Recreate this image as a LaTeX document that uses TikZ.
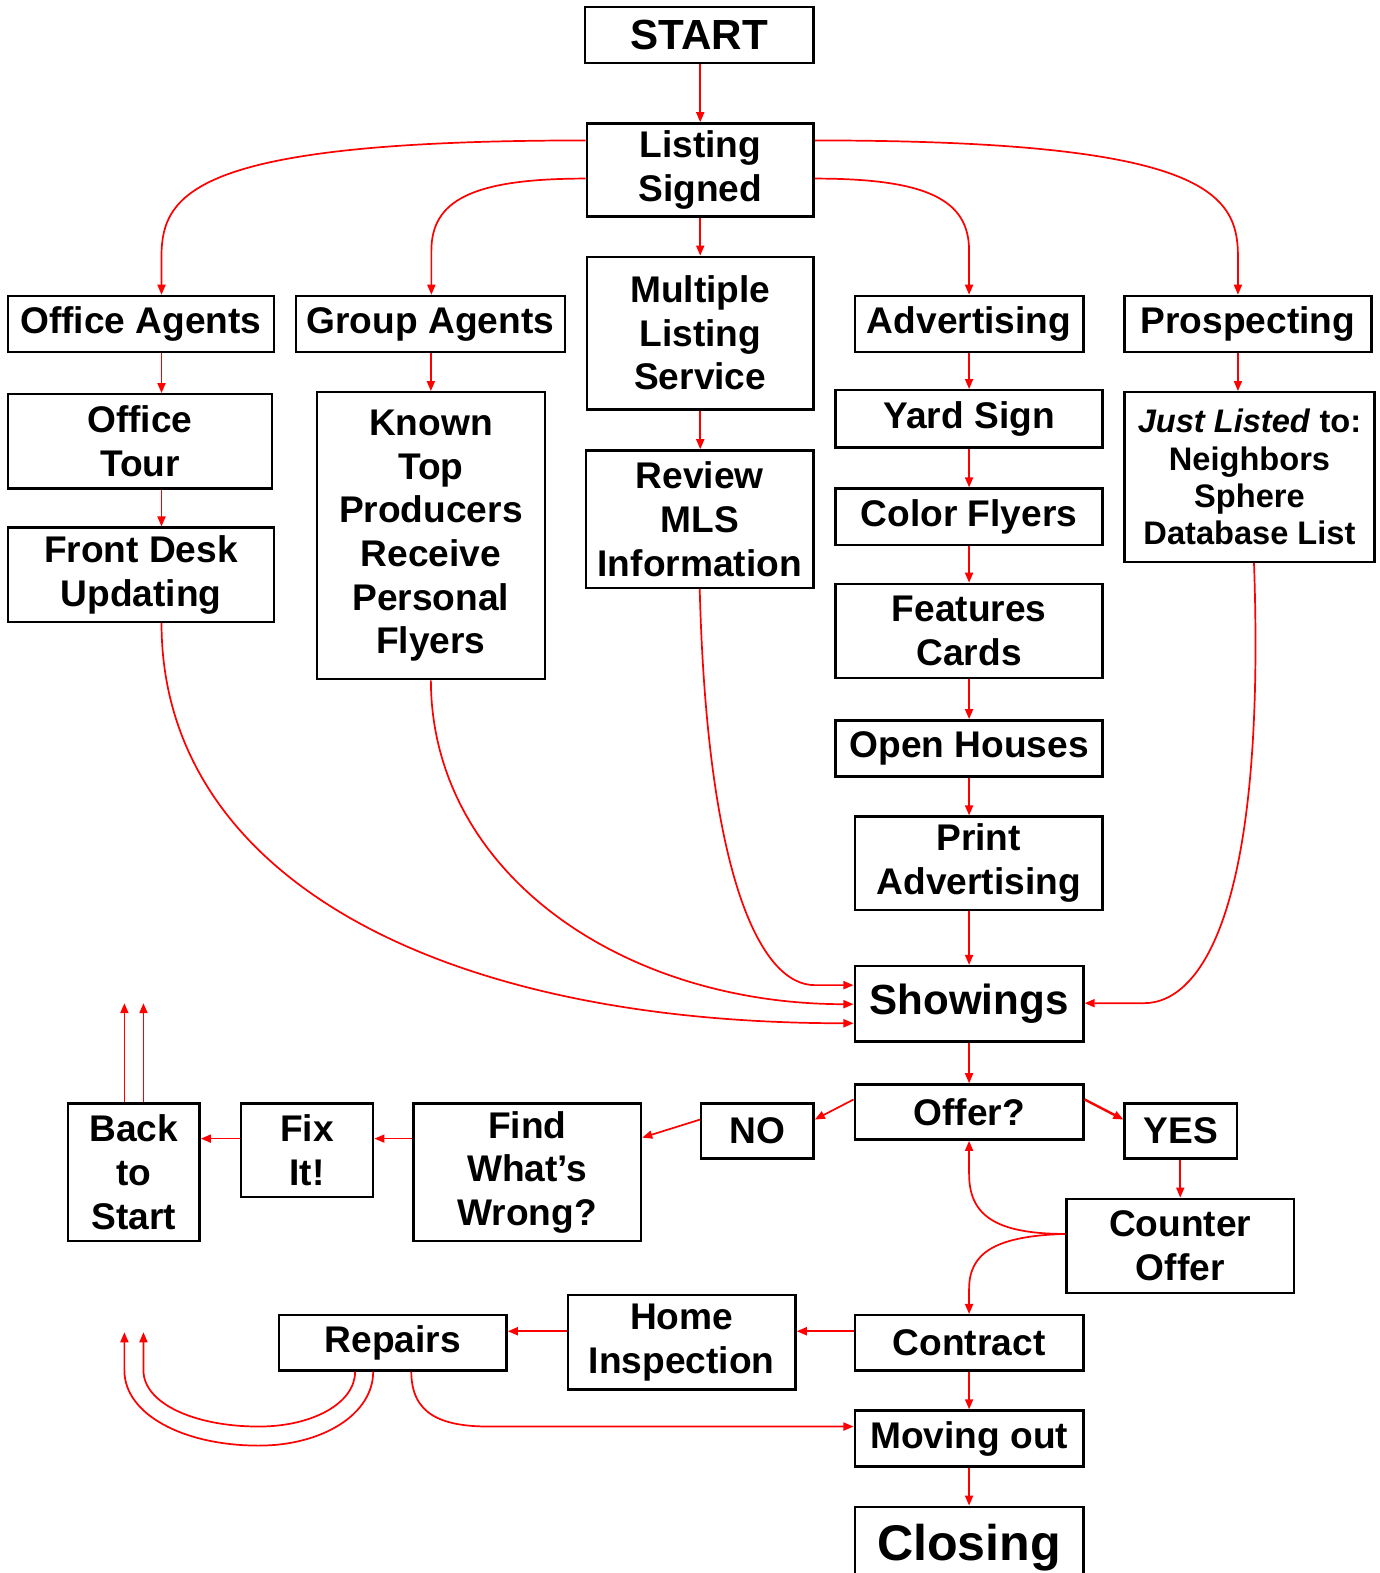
\documentclass[tikz,border=0pt]{standalone}
\usepackage{fontspec}
\setmainfont{Liberation Sans}
\usetikzlibrary{arrows.meta}
\begin{document}
\begin{tikzpicture}[x=1pt,y=-1pt,
 box/.style={draw, line width=2.4pt, inner sep=0pt, align=center, font=\fontsize{37}{43.5}\selectfont\bfseries},
 arr/.style={draw=red, line width=1.7pt, -{Triangle[length=10pt,width=8pt]}},
]
\useasboundingbox (0,0) rectangle (1375,1568);
\node[box,minimum width=228pt,minimum height=56pt,font=\fontsize{42}{48}\selectfont\bfseries] (start) at (697,35) {START};
\node[box,minimum width=226pt,minimum height=93pt] (ls) at (698,169.5) {Listing\\Signed};
\node[box,minimum width=265pt,minimum height=56pt] (oa) at (140.5,323) {Office Agents};
\node[box,minimum width=268pt,minimum height=56pt] (ga) at (429,323) {Group Agents};
\node[box,minimum width=226pt,minimum height=152pt] (mls) at (698,332) {Multiple\\Listing\\Service};
\node[box,minimum width=228pt,minimum height=56pt] (adv) at (966,323) {Advertising};
\node[box,minimum width=246pt,minimum height=56pt] (pros) at (1244,323) {Prospecting};
\node[box,minimum width=263pt,minimum height=94pt] (ot) at (139.5,440) {Office\\Tour};
\node[box,minimum width=265pt,minimum height=94pt] (fd) at (140.5,573) {Front Desk\\Updating};
\node[box,minimum width=227pt,minimum height=286pt] (kn) at (429.5,534) {Known\\Top\\Producers\\Receive\\Personal\\Flyers};
\node[box,minimum width=227pt,minimum height=137pt] (rev) at (697.5,517.5) {Review\\MLS\\Information};
\node[box,minimum width=266pt,minimum height=57pt] (ys) at (966,417.5) {Yard Sign};
\node[box,minimum width=266pt,minimum height=56pt] (cf) at (966,515) {Color Flyers};
\node[box,minimum width=266pt,minimum height=94pt] (fc) at (966,629) {Features\\Cards};
\node[box,minimum width=266pt,minimum height=56pt] (oh) at (966,746) {Open Houses};
\node[box,minimum width=247pt,minimum height=93pt] (pa) at (975.5,860.5) {Print\\Advertising};
\node[box,minimum width=249pt,minimum height=169pt,font=\fontsize{32.5}{37}\selectfont\bfseries] (jl) at (1245.5,475.5) {\textit{Just Listed} to:\\Neighbors\\Sphere\\Database List};
\node[box,minimum width=228pt,minimum height=75pt,font=\fontsize{42}{48}\selectfont\bfseries] (sh) at (966,1000.5) {Showings};
\node[box,minimum width=228pt,minimum height=55pt] (of) at (966,1108.5) {Offer?};
\node[box,minimum width=112pt,minimum height=55pt] (no) at (755,1127.5) {NO};
\node[box,minimum width=112pt,minimum height=55pt] (yes) at (1177,1127.5) {YES};
\node[box,minimum width=227pt,minimum height=137pt] (fw) at (525.5,1168.5) {Find\\What’s\\Wrong?};
\node[box,minimum width=132pt,minimum height=93pt] (fix) at (306,1146.5) {Fix\\It!};
\node[box,minimum width=131pt,minimum height=137pt] (bs) at (133.5,1168.5) {Back\\to\\Start};
\node[box,minimum width=227pt,minimum height=94pt] (co) at (1176.5,1242) {Counter\\Offer};
\node[box,minimum width=228pt,minimum height=55pt] (ct) at (966,1338.5) {Contract};
\node[box,minimum width=227pt,minimum height=94pt] (hi) at (679.5,1338) {Home\\Inspection};
\node[box,minimum width=227pt,minimum height=55pt] (rp) at (391.5,1338.5) {Repairs};
\node[box,minimum width=228pt,minimum height=56pt] (mo) at (966,1434) {Moving out};
\node[box,minimum width=228pt,minimum height=82pt,font=\fontsize{50}{56}\selectfont\bfseries] (cl) at (966,1543) {Closing};

\draw[arr] (start.south -| ls.north) -- (ls.north);
\draw[arr] (ls.south) -- (mls.north);
\draw[arr] (ls.west |- 0,140) .. controls (200,140) and (161,190) .. (161,255) -- (oa.north -| 161,0);
\draw[arr] (ls.west |- 0,178) .. controls (470,178) and (430,200) .. (430,250) -- (ga.north -| 430,0);
\draw[arr] (ls.east |- 0,178) .. controls (926,178) and (966,200) .. (966,250) -- (adv.north);
\draw[arr] (ls.east |- 0,140) .. controls (1196,140) and (1234,190) .. (1234,255) -- (pros.north -| 1234,0);
\draw[arr] (oa.south -| 161,0) -- (ot.north -| 161,0);
\draw[arr] (ot.south -| 161,0) -- (fd.north -| 161,0);
\draw[arr] (ga.south -| kn.north) -- (kn.north);
\draw[arr] (mls.south) -- (rev.north -| mls.south);
\draw[arr] (adv.south) -- (ys.north);
\draw[arr] (ys.south) -- (cf.north);
\draw[arr] (cf.south) -- (fc.north);
\draw[arr] (fc.south) -- (oh.north);
\draw[arr] (oh.south) -- (oh.south |- pa.north);
\draw[arr] (pa.south -| sh.north) -- (sh.north);
\draw[arr] (pros.south -| 1234,0) -- (jl.north -| 1234,0);
\draw[arr] (fd.south -| 161,0) .. controls (161,870) and (430,1020) .. (sh.west |- 0,1020);
\draw[arr] (kn.south) .. controls (430,870) and (620,1001) .. (sh.west |- 0,1001);
\draw[arr] (rev.south) .. controls (705,880) and (760,982) .. (812,982) -- (sh.west |- 0,982);
\draw[arr] (jl.south -| 1250,0) .. controls (1262,900) and (1200,1000) .. (1140,1000) -- (sh.east |- 0,1000);
\draw[arr] (sh.south) -- (of.north);
\draw[arr] (of.west |- 0,1096) -- (no.east |- 0,1116);
\draw[arr] (no.west |- 0,1116) -- (fw.east |- 0,1134);
\draw[arr] (fw.west |- 0,1135) -- (fix.east |- 0,1135);
\draw[arr] (fix.west |- 0,1135) -- (bs.east |- 0,1135);
\coordinate (b1) at (124,1000);
\coordinate (b2) at (143,1000);
\draw[arr] (bs.north -| b1) -- (b1);
\draw[arr] (bs.north -| b2) -- (b2);
\draw[arr, line width=2.4pt] (of.east |- 0,1096) -- (yes.west |- 0,1116);
\draw[arr] (yes.south -| co.north) -- (co.north);
\draw[arr] (co.west |- 0,1230) .. controls (990,1230) and (966,1210) .. (966,1170) -- (of.south);
\draw[arr] (co.west |- 0,1230) .. controls (990,1232) and (966,1250) .. (966,1285) -- (ct.north);
\draw[arr] (ct.west |- 0,1327) -- (hi.east |- 0,1327);
\draw[arr] (hi.west |- 0,1327) -- (rp.east |- 0,1327);
\draw[arr] (ct.south) -- (mo.north);
\draw[arr] (mo.south) -- (cl.north);
\draw[arr] (rp.south -| 410,0) .. controls (410,1410) and (440,1422) .. (488,1422) -- (mo.west |- 0,1422);
\coordinate (r1) at (143,1328);
\coordinate (r2) at (124,1328);
\draw[arr] (rp.south -| 354,0) .. controls (354,1399) and (311,1422) .. (258,1422) .. controls (194,1422) and (143,1399) .. (143,1366) -- (r1);
\draw[arr] (rp.south -| 372,0) .. controls (372,1410) and (321,1441) .. (258,1441) .. controls (183,1441) and (124,1410) .. (124,1366) -- (r2);
\end{tikzpicture}
\end{document}
